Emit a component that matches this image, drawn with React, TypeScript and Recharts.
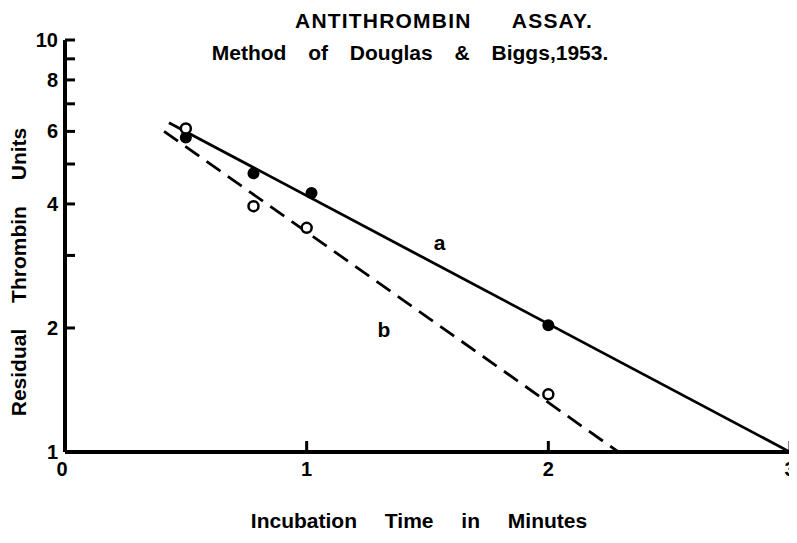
import { ComposedChart, Scatter, XAxis, YAxis } from "recharts";

// measured points (a = filled, b = open)
const aTimes = [0.5, 0.78, 1.02, 2.0];
const aUnits = [5.8, 4.75, 4.25, 2.03];
const bTimes = [0.5, 0.78, 1.0, 2.0];
const bUnits = [6.1, 3.95, 3.5, 1.38];

// fitted lines, end points
const aFitTimes = [0.43, 3.0];
const aFitUnits = [6.3, 1.0];
const bFitTimes = [0.41, 2.29];
const bFitUnits = [6.0, 1.0];

const curveNames = ["a", "b"];
const curveNameTimes = [1.55, 1.32];
const curveNameUnits = [3.22, 1.98];

const xTicks = [0, 1, 2, 3];
const yTicks = [1, 2, 3, 4, 5, 6, 7, 8, 9, 10];
const yLabelled = [1, 2, 4, 6, 8, 10];

const FONT = '"Liberation Sans", Arial, sans-serif';

const zip = (xs: number[], ys: number[]) => xs.map((x, i) => ({ x, y: ys[i] }));

const aPoints = zip(aTimes, aUnits);
const bPoints = zip(bTimes, bUnits);
const aFit = zip(aFitTimes, aFitUnits);
const bFit = zip(bFitTimes, bFitUnits);
const namePoints = curveNames.map((name, i) => ({ x: curveNameTimes[i], y: curveNameUnits[i], name }));

function YTick(props: any) {
  const { x, y, payload } = props;
  const v = payload.value;
  const axisX = x + 7;
  return (
    <g>
      {v !== 1 && <line x1={axisX} x2={axisX + 10} y1={y} y2={y} stroke="#000" strokeWidth={3} />}
      {yLabelled.includes(v) && (
        <text x={x} y={y} textAnchor="end" dominantBaseline="central" fontFamily={FONT} fontWeight="bold" fontSize={20} fill="#000">
          {v}
        </text>
      )}
    </g>
  );
}

function XTick(props: any) {
  const { x, y, payload } = props;
  const v = payload.value;
  const axisY = y - 8;
  return (
    <g>
      {v !== 0 && <line x1={x} x2={x} y1={axisY} y2={axisY - 11} stroke="#000" strokeWidth={3} />}
      <text x={v === 0 ? x - 3 : x} y={y + 2} dy="0.71em" textAnchor="middle" fontFamily={FONT} fontWeight="bold" fontSize={20} fill="#000">
        {v}
      </text>
    </g>
  );
}

const filledDot = (p: any) => <circle cx={p.cx} cy={p.cy} r={6} fill="#000" />;
const openDot = (p: any) => <circle cx={p.cx} cy={p.cy} r={5} fill="#fff" stroke="#000" strokeWidth={2.5} />;
const noDot = () => <g />;
const nameText = (p: any) => (
  <text x={p.cx} y={p.cy} textAnchor="middle" dominantBaseline="central" fontFamily={FONT} fontWeight="bold" fontSize={21} fill="#000">
    {p.payload.name}
  </text>
);

const textStyle: React.CSSProperties = {
  position: "absolute",
  fontFamily: FONT,
  fontWeight: "bold",
  color: "#000",
  whiteSpace: "nowrap",
  lineHeight: 1,
};

export default function App() {
  return (
    <div style={{ position: "relative", width: 797, height: 543, background: "#fff", margin: -8 }}>
      <ComposedChart width={797} height={543} margin={{ top: 40, right: 7, bottom: 61, left: 20 }}>
        <XAxis
          type="number"
          dataKey="x"
          domain={[0, 3]}
          ticks={xTicks}
          allowDataOverflow
          height={30}
          axisLine={{ stroke: "#000", strokeWidth: 4 }}
          tickLine={false}
          tickSize={0}
          tickMargin={8}
          tick={<XTick />}
        />
        <YAxis
          type="number"
          dataKey="y"
          scale="log"
          domain={[1, 10]}
          ticks={yTicks}
          allowDataOverflow
          width={45}
          axisLine={{ stroke: "#000", strokeWidth: 4 }}
          tickLine={false}
          tickSize={0}
          tickMargin={7}
          tick={<YTick />}
          interval={0}
        />
        <Scatter data={aFit} line={{ stroke: "#000", strokeWidth: 2.8 }} shape={noDot} isAnimationActive={false} />
        <Scatter
          data={bFit}
          line={{ stroke: "#000", strokeWidth: 2.8, strokeDasharray: "17 9" }}
          shape={noDot}
          isAnimationActive={false}
        />
        <Scatter data={aPoints} shape={filledDot} isAnimationActive={false} />
        <Scatter data={bPoints} shape={openDot} isAnimationActive={false} />
        <Scatter data={namePoints} shape={nameText} isAnimationActive={false} />
      </ComposedChart>

      <div style={{ ...textStyle, left: 444, top: 10, transform: "translateX(-50%)", fontSize: 21, letterSpacing: 1.2, wordSpacing: 34 }}>
        ANTITHROMBIN ASSAY.
      </div>
      <div style={{ ...textStyle, left: 410, top: 42, transform: "translateX(-50%)", fontSize: 21, wordSpacing: 16 }}>
        Method of Douglas &amp; Biggs,1953.
      </div>
      <div style={{ ...textStyle, left: 419, top: 510, transform: "translateX(-50%)", fontSize: 21, wordSpacing: 22 }}>
        Incubation Time in Minutes
      </div>
      <div
        style={{
          ...textStyle,
          left: 18,
          top: 272,
          transform: "translate(-50%, -50%) rotate(-90deg)",
          fontSize: 21,
          wordSpacing: 20,
        }}
      >
        Residual Thrombin Units
      </div>
    </div>
  );
}
